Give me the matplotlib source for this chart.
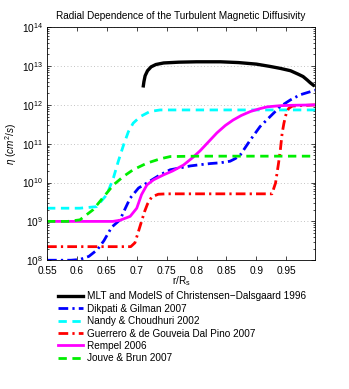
import numpy as np
import matplotlib
matplotlib.use("Agg")
import matplotlib.pyplot as plt
from matplotlib.ticker import LogLocator, NullFormatter, FixedLocator

plt.rcParams['font.family'] = ['Liberation Sans', 'DejaVu Sans']
plt.rcParams['mathtext.fontset'] = 'custom'
plt.rcParams['mathtext.rm'] = 'Liberation Sans'
plt.rcParams['mathtext.it'] = 'Liberation Sans:italic'
plt.rcParams['mathtext.bf'] = 'Liberation Sans:bold'

title = "Radial Dependence of the Turbulent Magnetic Diffusivity"
xlabel = r"r/R$_\mathrm{s}$"
ylabel = r"$\eta\ (cm^2/s)$"
x_ticks = [0.55, 0.6, 0.65, 0.7, 0.75, 0.8, 0.85, 0.9, 0.95]
x_tick_labels = ["0.55", "0.6", "0.65", "0.7", "0.75", "0.8", "0.85", "0.9", "0.95"]
labels = [
    "MLT and ModelS of Christensen\u2212Dalsgaard 1996",
    "Dikpati & Gilman 2007",
    "Nandy & Choudhuri 2002",
    "Guerrero & de Gouveia Dal Pino 2007",
    "Rempel 2006",
    "Jouve & Brun 2007",
]

# values: radius r/Rs and log10(eta [cm^2/s])
mlt_r = [0.711, 0.712, 0.714, 0.718, 0.724, 0.732, 0.745, 0.77, 0.80, 0.84, 0.87, 0.90,
         0.923, 0.94, 0.957, 0.97, 0.978, 0.985, 0.99, 0.995]
mlt_log = [12.49, 12.60, 12.75, 12.88, 12.98, 13.04, 13.08, 13.10, 13.11, 13.11, 13.09, 13.05,
           12.99, 12.94, 12.88, 12.79, 12.73, 12.64, 12.57, 12.51]

dik_r = [0.55, 0.59, 0.605, 0.62, 0.634, 0.645, 0.658, 0.672, 0.681, 0.689, 0.703, 0.717,
         0.739, 0.756, 0.773, 0.79, 0.806, 0.823, 0.84, 0.856, 0.865, 0.873, 0.89, 0.906,
         0.923, 0.94, 0.957, 0.973, 0.99, 0.998]
dik_log = [8.0, 8.0, 8.02, 8.1, 8.27, 8.5, 8.85, 9.04, 9.34, 9.60, 9.86, 9.99,
           10.2, 10.33, 10.38, 10.43, 10.46, 10.49, 10.51, 10.55, 10.62, 10.71, 11.1, 11.44,
           11.70, 11.96, 12.13, 12.26, 12.34, 12.38]

nan_r = [0.55, 0.605, 0.633, 0.650, 0.661, 0.669, 0.678, 0.686, 0.694, 0.706, 0.722,
         0.739, 0.756, 0.85, 0.998]
nan_log = [9.34, 9.34, 9.38, 9.69, 10.12, 10.54, 10.97, 11.31, 11.53, 11.70, 11.83,
           11.87, 11.87, 11.87, 11.87]

gue_r = [0.55, 0.69, 0.697, 0.703, 0.708, 0.713, 0.718, 0.725, 0.736, 0.75, 0.926,
         0.932, 0.937, 0.94, 0.943, 0.946, 0.95, 0.954, 0.96, 0.998]
gue_log = [8.35, 8.35, 8.45, 8.75, 9.0, 9.25, 9.45, 9.63, 9.70, 9.71, 9.71,
           9.99, 10.5, 10.84, 11.27, 11.53, 11.79, 11.91, 11.97, 12.0]

rem_r = [0.55, 0.66, 0.672, 0.689, 0.700, 0.708, 0.717, 0.728, 0.745, 0.760, 0.778,
         0.794, 0.806, 0.82, 0.834, 0.848, 0.861, 0.875, 0.89, 0.905, 0.918, 0.94,
         0.96, 0.998]
rem_log = [9.0, 9.0, 9.03, 9.13, 9.34, 9.69, 9.94, 10.07, 10.2, 10.3, 10.45,
           10.65, 10.82, 11.05, 11.28, 11.47, 11.61, 11.73, 11.83, 11.9, 11.95, 11.98,
           11.99, 12.0]

jou_r = [0.55, 0.585, 0.605, 0.627, 0.643, 0.661, 0.678, 0.694, 0.717, 0.739, 0.756,
         0.8, 0.998]
jou_log = [9.0, 9.0, 9.04, 9.30, 9.60, 9.94, 10.16, 10.33, 10.50, 10.61, 10.67,
           10.68, 10.68]

fig = plt.figure(figsize=(3.49, 3.89), dpi=100)
ax = fig.add_axes([0.1347, 0.331, 0.768, 0.599])

lw = 2.0
series = [
    (mlt_r, mlt_log, dict(color='black', ls='-', lw=2.4)),
    (dik_r, dik_log, dict(color='blue', ls=(0, (3.5, 1.5, 0.8, 1.5)), lw=lw)),
    (nan_r, nan_log, dict(color='cyan', ls=(0, (3, 2)), lw=lw)),
    (gue_r, gue_log, dict(color='red', ls=(0, (3.5, 1.5, 0.8, 1.5)), lw=lw)),
    (rem_r, rem_log, dict(color='magenta', ls='-', lw=lw)),
    (jou_r, jou_log, dict(color='#00ee00', ls=(0, (3, 2)), lw=lw)),
]
handles = []
for (r, lg, st), lab in zip(series, labels):
    h, = ax.semilogy(r, 10.0 ** np.array(lg), label=lab, **st)
    handles.append(h)

ax.set_xlim(0.55, 0.998)
ax.set_ylim(1e8, 1e14)
ax.xaxis.set_major_locator(FixedLocator(x_ticks))
ax.set_xticklabels(x_tick_labels)
ax.yaxis.set_major_locator(LogLocator(base=10, numticks=10))
ax.yaxis.set_minor_locator(LogLocator(base=10, subs=np.arange(2, 10), numticks=20))
ax.yaxis.set_minor_formatter(NullFormatter())
ax.grid(True, axis='y', which='major', color='#b0b0b0', ls=(0, (1, 3)), lw=0.6)
ax.tick_params(which='both', direction='in', top=True, right=True, labelsize=7.3)
ax.tick_params(axis='x', pad=4)
ax.tick_params(axis='y', pad=3)
ax.tick_params(which='major', length=3, width=0.5)
ax.tick_params(which='minor', length=1.5, width=0.5)
for s in ax.spines.values():
    s.set_linewidth(0.6)

ax.set_title(title, fontsize=7.2, pad=6)
ax.set_xlabel(xlabel, fontsize=7.2, labelpad=-1)
ax.set_ylabel(ylabel, fontsize=7.2, labelpad=2)

fig.legend(handles, labels, loc='upper left', bbox_to_anchor=(0.165, 0.251),
           frameon=False, fontsize=7.2, handlelength=2.5, handletextpad=0.4,
           labelspacing=0.24, borderpad=0, borderaxespad=0)

fig.savefig("out.png", dpi=100)
